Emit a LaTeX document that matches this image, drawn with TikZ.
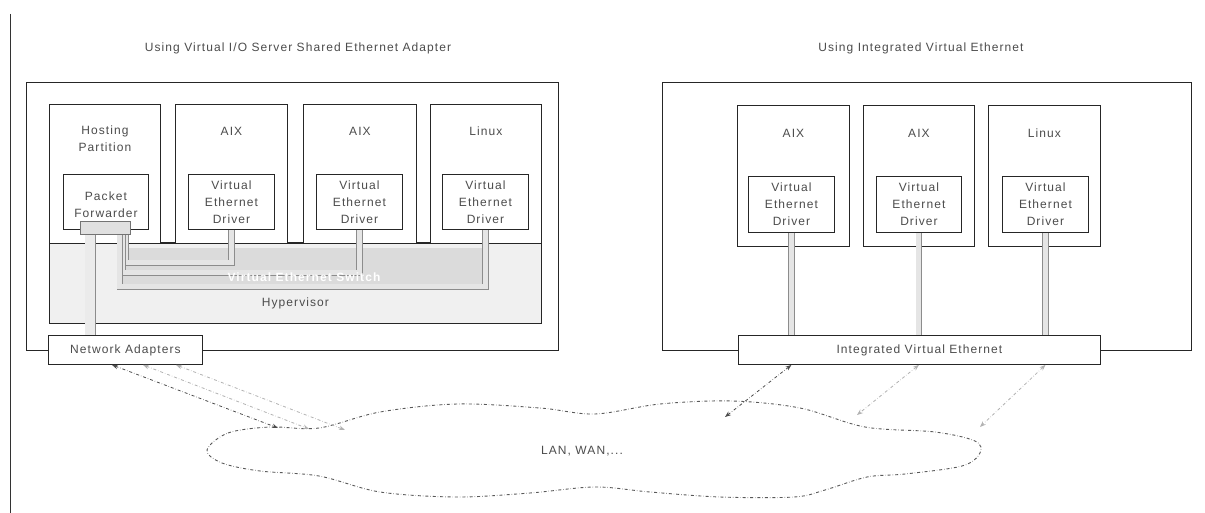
\documentclass[tikz,border=0pt]{standalone}
\usepackage{fontspec}
\setmainfont{Liberation Sans}[LetterSpace=9]
\usetikzlibrary{arrows.meta,calc}
\begin{document}
\begin{tikzpicture}[x=1pt,y=-1pt,
  box/.style={draw=black!85,line width=0.9pt,fill=white,inner sep=0pt,anchor=north west},
  lbl/.style={font=\fontsize{12}{17}\selectfont,text=black!70,align=center,inner sep=0pt},
  ttl/.style={font=\fontsize{12}{14}\selectfont,text=black!70,inner sep=0pt},
  pipe/.style={draw=black!45,line width=0.7pt,double=black!10,double distance=5pt},
  widepipe/.style={draw=black!45,line width=0.7pt,double=black!8,double distance=10pt},
  lnkdark/.style={draw=black!70,dash dot,line width=0.8pt,{Stealth[length=6pt,width=4.5pt]}-{Stealth[length=6pt,width=4.5pt]}},
  lnklight/.style={draw=black!30,dash dot,line width=0.8pt,{Stealth[length=6pt,width=4.5pt]}-{Stealth[length=6pt,width=4.5pt]}},
]
\useasboundingbox (0,0) rectangle (1205,513);
\fill[white] (0,0) rectangle (1205,513);
% left margin rule
\coordinate (rt) at (10,14);
\coordinate (rb) at (10,513);
\draw[black!80,line width=1pt] (rt) -- (rb);

% titles
\node[ttl] (t1) at (298,48) {Using Virtual I/O Server Shared Ethernet Adapter};
\node[ttl] (t2) at (921,48) {Using Integrated Virtual Ethernet};

% ===== left system =====
\node[box,minimum width=532pt,minimum height=268pt] (lo) at (26,82) {};
\node[box,draw=black!85,fill=black!6,minimum width=492pt,minimum height=80pt] (hv) at (49,243) {};
\draw[black!85,line width=1.6pt] (hv.north west) -- (hv.north east);

\node[box,minimum width=111pt,minimum height=139pt] (hp) at (49,104) {};
\node[box,minimum width=112pt,minimum height=139pt] (a1) at (175,104) {};
\node[box,minimum width=113pt,minimum height=139pt] (a2) at (303,104) {};
\node[box,minimum width=111pt,minimum height=139pt] (lx) at (430,104) {};

\node[box,minimum width=85pt,minimum height=55pt] (pf) at (63,174) {};
\node[box,minimum width=86pt,minimum height=55pt] (d1) at (188,174) {};
\node[box,minimum width=86pt,minimum height=55pt] (d2) at (316,174) {};
\node[box,minimum width=86pt,minimum height=55pt] (d3) at (442,174) {};

% virtual ethernet switch area
\fill[black!14] (118,248) rectangle (487,289);
\node[box,draw=black!55,fill=black!12,minimum width=50pt,minimum height=13pt] (sb) at (80,221) {};
\draw[pipe] (d1.south) -- ++(0,33) -| ([xshift=-5pt]sb.south east);
\draw[pipe] (d2.south) -- ++(0,43) -| ([xshift=-8pt]sb.south east);
\draw[pipe] (d3.south) -- ++(0,57) -| ([xshift=-11pt]sb.south east);
\node[box,minimum width=154pt,minimum height=29pt] (na) at (48,335) {};
\draw[widepipe] ([xshift=-15pt]sb.south) -- ([xshift=-15pt]sb.south |- na.north);
\node[font=\fontsize{12}{14}\selectfont\bfseries,text=white,inner sep=0pt] (vsw) at (304,277) {Virtual Ethernet Switch};

\node[lbl] at (hp.center |- 0,139) {Hosting\\Partition};
\node[lbl] at (a1.center |- 0,131) {AIX};
\node[lbl] at (a2.center |- 0,131) {AIX};
\node[lbl] at (lx.center |- 0,131) {Linux};
\node[lbl] at ([yshift=-3pt]pf.center) {Packet\\Forwarder};
\node[lbl] at (d1.center) {Virtual\\Ethernet\\Driver};
\node[lbl] at (d2.center) {Virtual\\Ethernet\\Driver};
\node[lbl] at (d3.center) {Virtual\\Ethernet\\Driver};
\node[lbl] at (hv.center |- 0,303) {Hypervisor};
\node[lbl] at (na.center) {Network Adapters};

% ===== right system =====
\node[box,minimum width=529pt,minimum height=268pt] (ro) at (662,82) {};
\node[box,minimum width=112pt,minimum height=141pt] (r1) at (737,105) {};
\node[box,minimum width=111pt,minimum height=141pt] (r2) at (863,105) {};
\node[box,minimum width=112pt,minimum height=141pt] (r3) at (988,105) {};
\node[box,minimum width=86pt,minimum height=56pt] (rd1) at (748,176) {};
\node[box,minimum width=85pt,minimum height=56pt] (rd2) at (876,176) {};
\node[box,minimum width=86pt,minimum height=56pt] (rd3) at (1002,176) {};
\node[box,minimum width=362pt,minimum height=29pt] (ive) at (738,335) {};
\draw[pipe] (rd1.south) -- (rd1.south |- ive.north);
\draw[pipe] (rd2.south) -- (rd2.south |- ive.north);
\draw[pipe] (rd3.south) -- (rd3.south |- ive.north);

\node[lbl] at (r1.center |- 0,133) {AIX};
\node[lbl] at (r2.center |- 0,133) {AIX};
\node[lbl] at (r3.center |- 0,133) {Linux};
\node[lbl] at (rd1.center) {Virtual\\Ethernet\\Driver};
\node[lbl] at (rd2.center) {Virtual\\Ethernet\\Driver};
\node[lbl] at (rd3.center) {Virtual\\Ethernet\\Driver};
\node[lbl] at (ive.center) {Integrated Virtual Ethernet};

% ===== cloud =====
\draw[black!65,dash dot,line width=0.9pt] plot[smooth cycle,tension=0.55] coordinates {
 (207,450) (228,433) (270,427) (319,428) (380,412) (457,404) (540,408) (595,414)
 (660,404) (732,401) (800,408) (865,427) (935,432) (975,441) (980,453) (962,466)
 (905,474) (867,477) (825,490) (794,497) (720,497) (650,492) (595,487) (530,493)
 (457,497) (380,492) (319,476) (260,471) (222,463)};
\node[lbl] (lan) at (582,451) {LAN, WAN,...};

% arrow end points on the cloud
\coordinate (c1) at (278,428);
\coordinate (c2) at (309,429);
\coordinate (c3) at (345,430);
\coordinate (c4) at (725,417);
\coordinate (c5) at (857,415);
\coordinate (c6) at (980,427);

\draw[lnkdark] ([xshift=64pt]na.south west) -- (c1);
\draw[lnklight] ([xshift=95pt]na.south west) -- (c2);
\draw[lnklight] ([xshift=128pt]na.south west) -- (c3);
\draw[lnkdark] (rd1.south |- ive.south) -- (c4);
\draw[lnklight] (rd2.south |- ive.south) -- (c5);
\draw[lnklight] (rd3.south |- ive.south) -- (c6);
\end{tikzpicture}
\end{document}
